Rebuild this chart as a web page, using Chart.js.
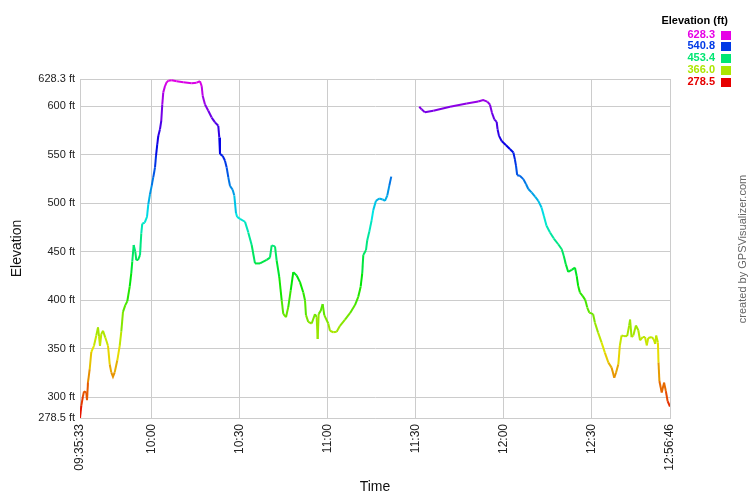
<!DOCTYPE html>
<html>
<head>
<meta charset="utf-8">
<title>Elevation</title>
<script src="https://cdn.jsdelivr.net/npm/chart.js@4.4.1/dist/chart.umd.min.js"></script>
<style>
    html, body { margin: 0; padding: 0; background: #fff; }
    #wrap { width: 750px; height: 500px; }
</style>
</head>
<body>
<div id="wrap"><canvas id="elevChart" width="750" height="500"></canvas></div>
<script>
// Track data
const startTime = '09:35:33';
const xTickLabels = ['09:35:33', '10:00', '10:30', '11:00', '11:30', '12:00', '12:30', '12:56:46'];
const yTickValues = [278.5, 300, 350, 400, 450, 500, 550, 600, 628.3];
const legendValues = [628.3, 540.8, 453.4, 366.0, 278.5];

// minutes after start, elevation in ft (null = gap in track)
const elapsedMin = [
    0, 0.44, 1.02, 1.36, 2.15, 2.39, 2.73, 3.31, 3.85, 4.77,
    5.56, 6.14, 6.48, 6.82, 7.26, 7.84, 8.63, 9.55, 10.13, 10.67,
    11.25, 11.83, 12.72, 13.54, 14.08, 14.66, 15.45, 16.13, 16.95, 17.49,
    17.83, 18.31, 18.86, 19.2, 19.78, 20.46, 20.9, 21.24, 22.06, 22.85,
    23.29, 23.87, 24.45, 25.0, 25.58, 25.92, 26.36, 26.7, 27.28, 27.72,
    28.06, 28.4, 28.99, 29.56, 30.11, 31.27, 32.97, 35.23, 38.09, 39.79,
    40.92, 41.5, 41.84, 42.63, 43.75, 44.91, 46.04, 47.16, 47.5, 47.74,
    48.66, 49.45, 50.02, 50.57, 51.15, 52.07, 52.62, 53.2, 53.6, 54.56,
    56.27, 57.39, 58.55, 59.68, 61.38, 63.66, 64.79, 65.37, 66.5, 67.07,
    67.96, 68.78, 69.33, 70.25, 71.03, 71.85, 72.74, 73.9, 75.02, 76.15,
    76.73, 77.07, 77.85, 79.01, 80.14, 80.71, 81.06, 81.4, 82.08, 82.76,
    83.31, 84.67, 85.25, 86.38, 87.53, 88.66, 90.37, 92.07, 93.78, 94.9,
    95.72, 96.26, 96.61, 97.53, 97.97, 98.65, 99.47, 100.02, 100.94, 102.06,
    103.22, 104.0, 104.79, 105.47, 106.15,
    110,
    115.7, 116.5, 117.6, 120.5, 126.2, 131.9, 135.8, 137.5, 138.9, 139.8,
    140.5, 141.3, 142.1, 142.4, 142.9, 143.8, 145.3, 146.6, 147.8, 148.3,
    148.7, 149.1, 150.0, 151.2, 152.1, 152.9, 154.0, 155.2, 156.3, 157.4,
    158.2, 159.1, 160.3, 161.6, 163.1, 164.3, 165.0, 165.7, 166.5, 167.7,
    168.8, 169.4, 169.9, 170.5, 171.4, 172.3, 173.0, 173.7, 175.0, 175.6,
    176.7, 177.9, 179.0, 180.2, 181.3, 182.2, 182.8, 183.6, 184.1, 184.7,
    185.5, 186.6, 187.3, 187.6, 188.1, 188.7, 189.6, 190.4, 191.0, 191.9,
    192.7, 193.3, 193.8, 195.0, 195.6, 196.2, 196.5, 197.1, 197.3, 197.6,
    198.4, 199.2, 199.8, 200.4, 201.2
];
const elevationFt = [
    278.5, 291, 301, 306, 305, 297, 315.5, 329, 346.6, 353,
    363.6, 372, 363, 353, 365, 368.5, 361.5, 353, 334, 325.6,
    321, 325.6, 338, 353, 367.6, 388, 395, 399, 414, 428,
    440, 457, 450, 441.5, 441.5, 446.6, 469, 479, 480, 486,
    499, 509.5, 518, 527, 537, 549, 561, 569.6, 576.5, 585,
    602, 614.5, 621, 625, 626.5, 627, 626, 625, 624, 624.5,
    626, 621, 611, 602, 595.5, 588.5, 583.5, 580, 568, 551,
    549, 544, 537, 527, 518, 514, 508, 490, 486, 484,
    481, 470, 457, 438, 438, 441.6, 444, 456.6, 455.6, 441,
    424, 400, 386, 382.5, 393, 410, 429, 425.6, 418.7, 408,
    400, 384.6, 377.7, 376, 385.6, 382.6, 360, 386, 389, 396,
    384.6, 376, 368.5, 367, 367.6, 373.6, 380, 386.6, 395, 403.6,
    414, 428, 446.6, 451.7, 462, 470.6, 482.7, 493, 502.6, 505,
    504, 502.6, 508, 518, 527.6,
    null,
    599.7, 597, 594, 595.6, 599.7, 603, 605, 606.5, 605, 602,
    593.5, 586.6, 584, 576.5, 569.6, 564.4, 560, 556, 552.4, 545.6,
    538.7, 529, 528.4, 525, 520, 514.8, 511.3, 507, 502.6, 495.7,
    487, 476.8, 470, 463.7, 457.8, 452.6, 445.7, 437, 429.2, 431.3,
    433.7, 425, 414.8, 408, 404.5, 400.4, 392.5, 387.3, 385.6, 377,
    366.6, 356.3, 346, 335.6, 330.5, 320, 325.3, 334, 353, 363.6,
    363, 363, 374, 380, 362, 363.6, 374, 369, 358.7, 362,
    362, 353.4, 361, 362, 360, 355, 363.6, 356.3, 335.6, 316.7,
    304.8, 315, 306.3, 296, 290.3
];

const FONT = "'Liberation Sans', Arial, sans-serif";

// "HH:MM" or "HH:MM:SS" -> minutes since midnight
function toMinutes(str) {
    const p = str.split(':').map(Number);
    return p[0] * 60 + p[1] + (p[2] || 0) / 60;
}

const startMin = toMinutes(startTime);
const xTickValues = xTickLabels.map(toMinutes);
const yMin = yTickValues[0];
const yMax = yTickValues[yTickValues.length - 1];

// rainbow from red (low) to magenta (high)
function elevColor(v) {
    const h = 300 * (v - yMin) / (yMax - yMin);
    return 'hsl(' + h.toFixed(1) + ', 100%, 45%)';
}

const points = elapsedMin.map((m, i) => ({ x: startMin + m, y: elevationFt[i] }));

// Legend box and credit line drawn on the canvas
const sidePlugin = {
    id: 'sideText',
    afterDraw(chart) {
        const ctx = chart.ctx;
        ctx.save();
        ctx.textBaseline = 'middle';
        ctx.textAlign = 'right';
        ctx.fillStyle = '#000';
        ctx.font = 'bold 11px ' + FONT;
        ctx.fillText('Elevation (ft)', 728, 21);

        legendValues.forEach((v, i) => {
            const y = 34.5 + i * 11.8;
            ctx.fillStyle = elevColor(v);
            ctx.fillText(v.toFixed(1), 715, y);
            ctx.fillRect(721, Math.round(y) - 4, 10, 9);
        });

        ctx.translate(743, 249);
        ctx.rotate(-Math.PI / 2);
        ctx.textAlign = 'center';
        ctx.font = '11px ' + FONT;
        ctx.fillStyle = '#666';
        ctx.fillText('created by GPSVisualizer.com', 0, 0);
        ctx.restore();
    }
};

new Chart(document.getElementById('elevChart'), {
    type: 'line',
    data: {
        datasets: [{
            label: 'Elevation',
            data: points,
            borderWidth: 2,
            pointRadius: 0,
            spanGaps: false,
            tension: 0,
            segment: {
                borderColor: ctx => elevColor((ctx.p0.parsed.y + ctx.p1.parsed.y) / 2)
            }
        }]
    },
    options: {
        responsive: false,
        animation: false,
        devicePixelRatio: 1,
        layout: { padding: { left: 0, right: 80, top: 79, bottom: 0 } },
        plugins: {
            legend: { display: false },
            tooltip: { enabled: false }
        },
        scales: {
            x: {
                type: 'linear',
                min: xTickValues[0],
                max: xTickValues[xTickValues.length - 1],
                afterBuildTicks: scale => {
                    scale.ticks = xTickValues.map(v => ({ value: v }));
                },
                afterFit: scale => { scale.height = 82; },
                ticks: {
                    autoSkip: false,
                    minRotation: 90,
                    maxRotation: 90,
                    padding: 6,
                    color: '#222',
                    font: { family: FONT, size: 12 },
                    callback: (value, index) => xTickLabels[index]
                },
                grid: { color: '#cccccc', drawTicks: false },
                border: { color: '#cccccc' },
                title: {
                    display: true,
                    text: 'Time',
                    color: '#111',
                    font: { family: FONT, size: 14 },
                    padding: { top: 0, bottom: 4 }
                }
            },
            y: {
                min: yMin,
                max: yMax,
                afterBuildTicks: scale => {
                    scale.ticks = yTickValues.map(v => ({ value: v }));
                },
                afterFit: scale => { scale.width = 80; },
                ticks: {
                    padding: 5,
                    color: '#222',
                    font: { family: FONT, size: 11 },
                    callback: value => value + ' ft'
                },
                grid: { color: '#cccccc', drawTicks: false },
                border: { color: '#cccccc' },
                title: {
                    display: true,
                    text: 'Elevation',
                    color: '#111',
                    font: { family: FONT, size: 14 },
                    padding: { top: 9, bottom: 0 }
                }
            }
        }
    },
    plugins: [sidePlugin]
});
</script>
</body>
</html>
